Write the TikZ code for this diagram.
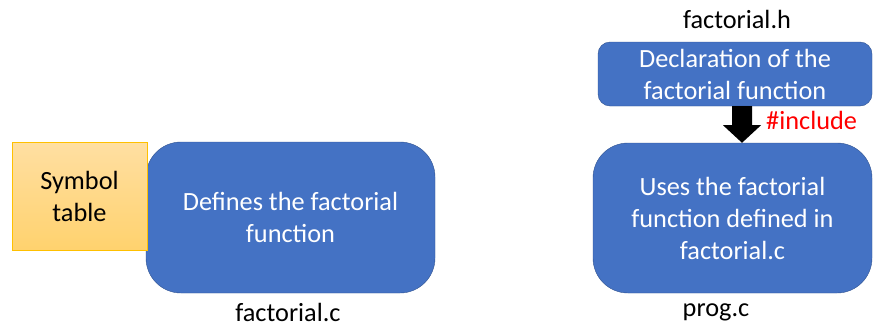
\documentclass[tikz,border=0pt]{standalone}
\usepackage{fontspec}
\setmainfont{Carlito}
\usepackage{xcolor}
\usetikzlibrary{calc, positioning}
\definecolor{boxBlue}{HTML}{4472C4}
\definecolor{boxEdge}{HTML}{2F528F}
\definecolor{symTop}{HTML}{FFDFA2}
\definecolor{symBottom}{HTML}{FFD26E}
\definecolor{symEdge}{HTML}{FFC000}

\begin{document}
\begin{tikzpicture}[x=1pt, y=-1pt,
    filebox/.style={draw=boxEdge, fill=boxBlue, text=white, align=center,
        font=\fontsize{26.3}{32}\selectfont, inner sep=0pt},
    filename/.style={font=\fontsize{26.3}{32}\selectfont, inner sep=0pt}]
    \useasboundingbox (0,0) rectangle (873,327);

    % factorial.c
    \node[filebox, minimum width=289pt, minimum height=151pt, rounded corners=35pt]
        (defs) at (290.5,217.5) {Defines the factorial\\function};
    \node[draw=symEdge, top color=symTop, bottom color=symBottom, align=center,
        minimum width=135pt, minimum height=108pt, inner sep=0pt,
        font=\fontsize{26.3}{32}\selectfont]
        (symtab) at (79.5,196) {Symbol\\table};
    \node[filename] (cname) at (288,312.5) {factorial.c};

    % factorial.h and prog.c
    \node[filebox, minimum width=274pt, minimum height=64pt, rounded corners=12pt]
        (decl) at (735,74) {Declaration of the\\factorial function};
    \node[filename] (hname) at (737,19) {factorial.h};
    \node[filebox, minimum width=279pt, minimum height=150pt, rounded corners=35pt]
        (prog) at (732.5,218) {Uses the factorial\\function defined in\\factorial.c};
    \node[filename] (pname) at (716,312.5) {prog.c};

    % include arrow
    \coordinate (atop) at ($(decl.south)+(7,0)$);
    \coordinate (atip) at ($(prog.north)+(9.5,0)$);
    \fill ($(atop)+(-10,0)$) -- ($(atop)+(10,0)$) -- ($(atop)+(10,19)$)
        -- ($(atop)+(19,19)$) -- (atip) -- ($(atop)+(-19,19)$)
        -- ($(atop)+(-10,19)$) -- cycle;
    \node[filename, text=red, anchor=west] (inc) at (766,120) {\#include};
\end{tikzpicture}
\end{document}
